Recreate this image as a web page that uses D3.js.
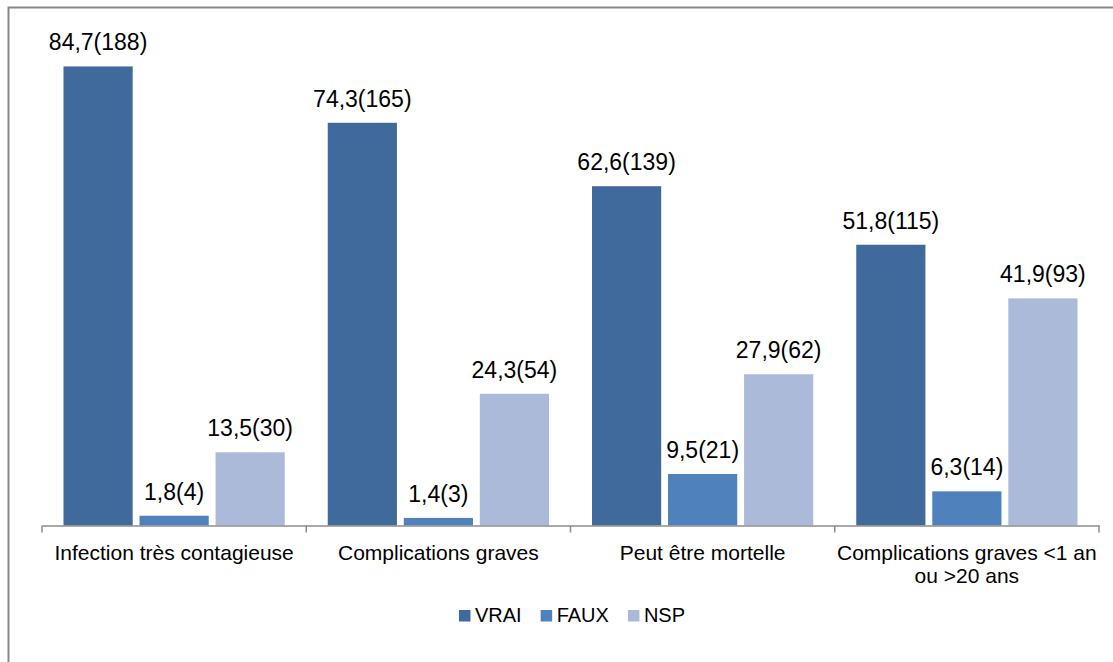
<!DOCTYPE html>
<html>
<head>
<meta charset="utf-8">
<script src="https://cdn.jsdelivr.net/npm/d3@7"></script>
<style>
  body { margin: 0; background: #fff; }
  text { font-family: "Liberation Sans", Arial, sans-serif; fill: #000; }
</style>
</head>
<body>
<svg id="chart" width="1113" height="662"></svg>
<script>
// data
var categories = ["Infection très contagieuse", "Complications graves", "Peut être mortelle", "Complications graves <1 an|ou >20 ans"];
var series = ["VRAI", "FAUX", "NSP"];
var vrai = [84.7, 74.3, 62.6, 51.8];
var faux = [1.8, 1.4, 9.5, 6.3];
var nsp = [13.5, 24.3, 27.9, 41.9];
var vraiN = [188, 165, 139, 115];
var fauxN = [4, 3, 21, 14];
var nspN = [30, 54, 62, 93];
var colors = ["#406a9b", "#4f81bd", "#aabad8"];

var values = [vrai, faux, nsp];
var counts = [vraiN, fauxN, nspN];

var svg = d3.select("#chart");

// outer frame (goes past the right and bottom edge)
svg.append("rect")
  .attr("x", 8.5).attr("y", 7.5)
  .attr("width", 1120).attr("height", 680)
  .attr("fill", "none").attr("stroke", "#878787").attr("stroke-width", 2);

var x0 = d3.scaleBand().domain(categories).range([42, 1099]);
var x1 = d3.scaleBand().domain(series).range([21.5, x0.bandwidth() - 21.5]).paddingInner(0.09);
var y = d3.scaleLinear().domain([0, 90]).range([525.5, 37.7]);

var rows = [];
categories.forEach(function (c, i) {
  series.forEach(function (s, j) {
    rows.push({ cat: c, ser: s, v: values[j][i], n: counts[j][i], col: colors[j] });
  });
});

var g = svg.append("g");
g.selectAll("rect.bar")
  .data(rows)
  .join("rect")
  .attr("class", "bar")
  .attr("x", d => x0(d.cat) + x1(d.ser))
  .attr("y", d => y(d.v))
  .attr("width", x1.bandwidth())
  .attr("height", d => y(0) - y(d.v))
  .attr("fill", d => d.col);

// value labels
g.selectAll("text.val")
  .data(rows)
  .join("text")
  .attr("class", "val")
  .attr("x", d => x0(d.cat) + x1(d.ser) + x1.bandwidth() / 2)
  .attr("y", d => y(d.v) - 16)
  .attr("text-anchor", "middle")
  .style("font-size", "23px")
  .text(d => String(d.v).replace(".", ",") + "(" + d.n + ")");

// x axis
var axis = svg.append("g")
  .attr("transform", "translate(0," + y(0) + ")")
  .call(d3.axisBottom(x0).tickSize(0).tickFormat(""));
axis.select(".domain").attr("stroke", "#8c8c8c").attr("stroke-width", 1.5);
var bounds = categories.map(c => x0(c)).concat([x0.range()[1]]);
axis.selectAll("line.sep")
  .data(bounds)
  .join("line")
  .attr("class", "sep")
  .attr("x1", d => d).attr("x2", d => d)
  .attr("y1", 0).attr("y2", 7)
  .attr("stroke", "#8c8c8c").attr("stroke-width", 1.5);

// category labels (| = line break)
svg.selectAll("text.cat")
  .data(categories)
  .join("text")
  .attr("class", "cat")
  .attr("text-anchor", "middle")
  .style("font-size", "21px")
  .each(function (d) {
    var lines = d.split("|");
    var t = d3.select(this);
    lines.forEach(function (l, k) {
      t.append("tspan")
        .attr("x", x0(d) + x0.bandwidth() / 2)
        .attr("y", 560 + k * 23)
        .text(l);
    });
  });

// legend
var leg = svg.append("g");
var lx = 0;
series.forEach(function (s, j) {
  var item = leg.append("g").attr("transform", "translate(" + lx + ",0)");
  item.append("rect").attr("x", 0).attr("y", 610).attr("width", 11.5).attr("height", 11.5).attr("fill", colors[j]);
  var t = item.append("text").attr("x", 16).attr("y", 622).style("font-size", "20px").text(s);
  lx += 16 + t.node().getComputedTextLength() + 19;
});
lx -= 19;
leg.attr("transform", "translate(" + (572 - lx / 2) + ",0)");
</script>
</body>
</html>
